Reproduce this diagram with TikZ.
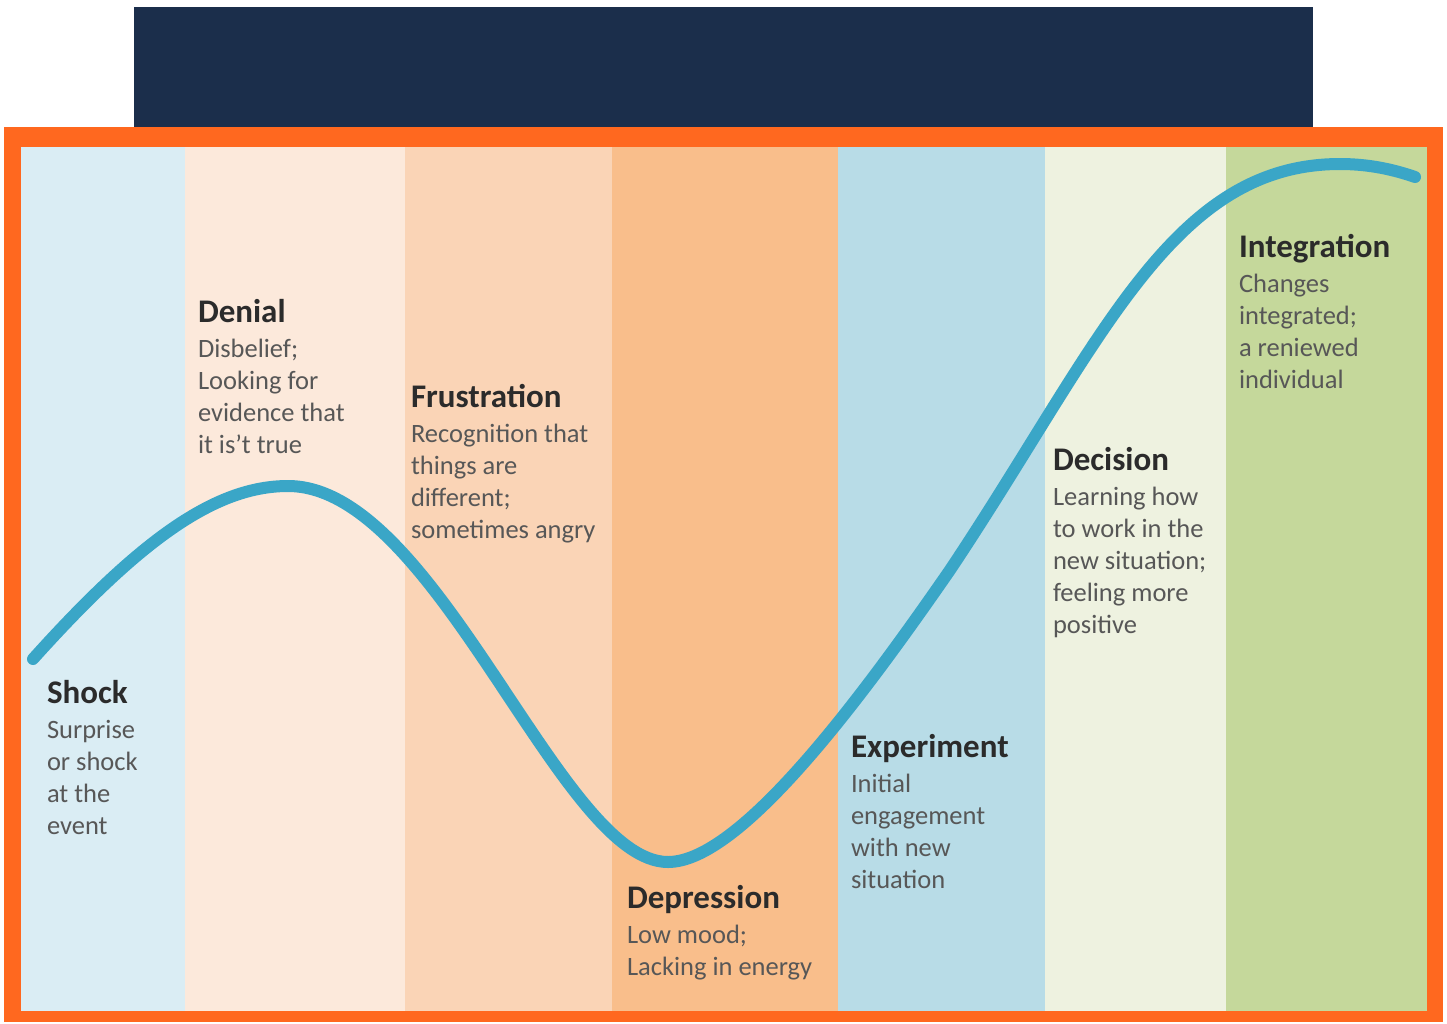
\documentclass[tikz,border=0pt]{standalone}
\usepackage{fontspec}
\setmainfont{Carlito}
\definecolor{navy}{HTML}{1B2E4B}
\definecolor{framec}{HTML}{FF681F}
\definecolor{bandA}{HTML}{DAEDF4}
\definecolor{bandB}{HTML}{FCE9DB}
\definecolor{bandC}{HTML}{FAD4B6}
\definecolor{bandD}{HTML}{F9BE8B}
\definecolor{bandE}{HTML}{B8DCE7}
\definecolor{bandF}{HTML}{EEF2E0}
\definecolor{bandG}{HTML}{C5D89B}
\definecolor{curvec}{HTML}{3AA6C7}
\definecolor{titlec}{HTML}{2B2B2B}
\definecolor{bodyc}{HTML}{575757}
\newcommand{\stagetext}[2]{\parbox[t]{8cm}{\raggedright\fontsize{26.5}{32.2}\selectfont\leavevmode\color{bodyc}{\fontsize{33}{32.2}\selectfont\bfseries\color{titlec}#1}\\[2.8pt]#2}}
\tikzset{
  stagelabel/.style={anchor=base west, inner sep=0pt, outer sep=0pt},
  curveline/.style={draw=curvec, line width=12pt, line cap=round, line join=round}
}
\begin{document}
\begin{tikzpicture}[x=1pt,y=-1pt]
\useasboundingbox (0,0) rectangle (1447,1023);
\fill[white] (0,0) rectangle (1447,1023);
% header bar
\fill[navy] (134,7) rectangle (1313,128);
% orange frame
\fill[framec] (4,127) rectangle (1443,1022);
% bands
\fill[bandA] (21,147) rectangle (185,1011);
\fill[bandB] (185,147) rectangle (405,1011);
\fill[bandC] (405,147) rectangle (612,1011);
\fill[bandD] (612,147) rectangle (838,1011);
\fill[bandE] (838,147) rectangle (1045,1011);
\fill[bandF] (1045,147) rectangle (1226,1011);
\fill[bandG] (1226,147) rectangle (1427,1011);
% curve
\coordinate (c0) at (33,659);
\coordinate (c1) at (288,486);
\coordinate (c2) at (668,862);
\coordinate (c3) at (950,570);
\coordinate (c4) at (1340,164);
\coordinate (c5) at (1415,177);
\draw[curveline] (c0) .. controls (140,540) and (215,486) .. (c1)
  .. controls (437,486) and (560,862) .. (c2)
  .. controls (740,862) and (860,700) .. (c3)
  .. controls (1100,345) and (1170,164) .. (c4)
  .. controls (1370,164) and (1395,170) .. (c5);
% labels
\node[stagelabel] (shock) at (47,703) {\stagetext{Shock}{Surprise\\or shock\\at the\\event}};
\node[stagelabel] (denial) at (198,322) {\stagetext{Denial}{Disbelief;\\Looking for\\evidence that\\it is't true}};
\node[stagelabel] (frustration) at (411,407) {\stagetext{Frustration}{Recognition that\\things are\\different;\\sometimes angry}};
\node[stagelabel] (depression) at (627,908) {\stagetext{Depression}{Low mood;\\Lacking in energy}};
\node[stagelabel] (experiment) at (851,757) {\stagetext{Experiment}{Initial\\engagement\\with new\\situation}};
\node[stagelabel] (decision) at (1053,470) {\stagetext{Decision}{Learning how\\to work in the\\new situation;\\feeling more\\positive}};
\node[stagelabel] (integration) at (1239,257) {\stagetext{Integration}{Changes\\integrated;\\a reniewed\\individual}};
\end{tikzpicture}
\end{document}
